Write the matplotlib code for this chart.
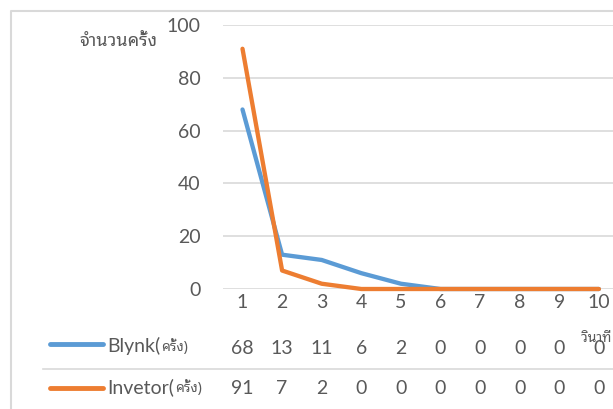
import matplotlib
matplotlib.use("Agg")
import matplotlib.pyplot as plt

categories = [1, 2, 3, 4, 5, 6, 7, 8, 9, 10]
blynk = [68, 13, 11, 6, 2, 0, 0, 0, 0, 0]
invetor = [91, 7, 2, 0, 0, 0, 0, 0, 0, 0]
yticks = [0, 20, 40, 60, 80, 100]
series_names = ["Blynk(", "Invetor("]
unit = "ครั้ง)"
y_title = "จำนวนครั้ง"
x_title = "วินาที"

W, H = 613, 409
fig = plt.figure(figsize=(W / 100, H / 100), dpi=100)

num_font = ["Lato", "DejaVu Sans"]
thai_font = ["Noto Sans Thai Looped", "Noto Sans Thai", "DejaVu Sans"]
txt_col = "#595959"
grid_col = "#D9D9D9"
blue = "#5B9BD5"
orange = "#ED7D31"

def fx(px):
    return px / W

def fy(py):
    return 1 - py / H

# plot area
left_px, right_px = 222.7, 618.7
top_px, bot_px = 25, 289
ax = fig.add_axes([fx(left_px), fy(bot_px), fx(right_px - left_px), (bot_px - top_px) / H])
ax.set_xlim(0.5, 10.5)
ax.set_ylim(0, 100)
for s in ax.spines.values():
    s.set_visible(False)
ax.set_yticks(yticks)
ax.yaxis.grid(True, color=grid_col, linewidth=1.2)
ax.set_axisbelow(True)
ax.tick_params(axis="y", length=0, pad=16, labelsize=14, labelcolor=txt_col)
for lab in ax.get_yticklabels():
    lab.set_fontfamily(num_font)
ax.set_xticks([])
ax.plot(categories, blynk, color=blue, linewidth=3.1, solid_capstyle="round", solid_joinstyle="round", clip_on=False)
ax.plot(categories, invetor, color=orange, linewidth=3.1, solid_capstyle="round", solid_joinstyle="round", clip_on=False)

# overlay axes in pixel coords for table
ov = fig.add_axes([0, 0, 1, 1], facecolor="none")
ov.set_xlim(0, W)
ov.set_ylim(H, 0)
ov.axis("off")

# chart border
ov.plot([10.5, 10.5, W], [H, 10.5, 10.5], color=grid_col, linewidth=1.5)

def cx(c):
    return left_px + (c - 0.5) * (right_px - left_px) / 10

# category labels
for c in categories:
    ov.text(cx(c), 303, str(c), ha="center", va="center", fontsize=14, color=txt_col, family=num_font)

row_y = [348, 389]
key_y = [344, 388]
for vals, y in zip([blynk, invetor], row_y):
    for c, v in zip(categories, vals):
        ov.text(cx(c), y, str(v), ha="center", va="center", fontsize=14, color=txt_col, family=num_font)

# table rule
ov.plot([43, W], [369, 369], color=grid_col, linewidth=1.2)

# legend keys + names
fig.canvas.draw()
for name, y, ky, col in zip(series_names, row_y, key_y, [blue, orange]):
    ov.plot([50, 103], [ky, ky], color=col, linewidth=3.5, solid_capstyle="round")
    t = ov.text(107, y - 2, name, ha="left", va="center", fontsize=14, color=txt_col, family=num_font)
    fig.canvas.draw()
    bb = t.get_window_extent()
    x_end = bb.x1 * W / fig.bbox.width
    ov.text(x_end + 1, y - 1, unit, ha="left", va="center", fontsize=10, color=txt_col, family=thai_font)

ov.text(118, 41, y_title, ha="center", va="center", fontsize=13, color=txt_col, family=thai_font)
ov.text(612, 339, x_title, ha="right", va="center", fontsize=10, color=txt_col, family=thai_font)

fig.savefig("out.png", dpi=100)
